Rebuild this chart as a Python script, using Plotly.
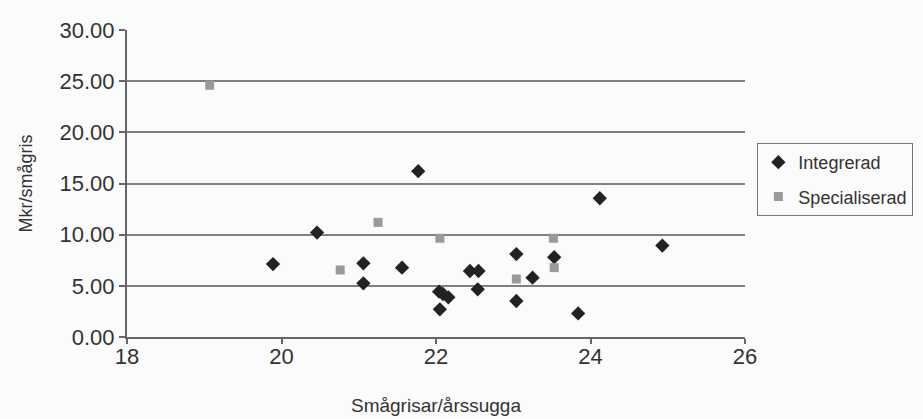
import plotly.graph_objects as go

# Integrerad (diamonds)
int_x = [19.89, 20.46, 21.06, 21.06, 21.56, 21.77, 22.04, 22.09, 22.16, 22.05,
         22.44, 22.55, 22.54, 23.04, 23.04, 23.25, 23.53, 23.84, 24.12, 24.93]
int_y = [7.13, 10.2, 7.2, 5.25, 6.77, 16.2, 4.43, 4.2, 3.88, 2.7,
         6.45, 6.45, 4.66, 8.1, 3.52, 5.8, 7.8, 2.3, 13.56, 8.93]

# Specialiserad (squares)
spec_x = [19.07, 20.76, 21.25, 22.05, 23.04, 23.52, 23.53]
spec_y = [24.6, 6.55, 11.2, 9.65, 5.67, 9.65, 6.78]

x_ticks = [18, 20, 22, 24, 26]
y_ticks = [0, 5, 10, 15, 20, 25, 30]

fig = go.Figure()
fig.add_trace(go.Scatter(x=int_x, y=int_y, mode="markers", name="Integrerad",
                         legendgroup="a",
                         marker=dict(symbol="diamond", size=11, color="#222222")))
fig.add_trace(go.Scatter(x=spec_x, y=spec_y, mode="markers", name="Specialiserad",
                         legendgroup="b",
                         marker=dict(symbol="square", size=9, color="#9a9a9a")))

fig.update_layout(
    width=923, height=419,
    margin=dict(l=127, r=178, t=30, b=82, autoexpand=False),
    paper_bgcolor="#fbfbfb", plot_bgcolor="#fbfbfb",
    font=dict(family="Liberation Sans, Arial, sans-serif", color="#333333"),
    showlegend=True,
    legend=dict(x=1.02, y=0.632, xanchor="left", yanchor="top",
                bordercolor="#777777", borderwidth=1, bgcolor="#fbfbfb",
                font=dict(size=18, color="#333333"), tracegroupgap=8,
                itemwidth=30),
)
fig.update_xaxes(range=[18, 26], tickvals=x_ticks, showgrid=False, zeroline=False,
                 automargin=False,
                 showline=True, linecolor="#666666", linewidth=2,
                 ticks="outside", ticklen=5, tickcolor="#666666", tickwidth=2,
                 ticklabelstandoff=-6,
                 tickfont=dict(size=22, color="#333333"),
                 title=dict(text="Smågrisar/årssugga", font=dict(size=19, color="#333333"), standoff=30))
fig.update_yaxes(range=[0, 30], tickvals=y_ticks, tickformat=".2f",
                 automargin=False,
                 showgrid=True, gridcolor="#808080", gridwidth=2, zeroline=False,
                 showline=True, linecolor="#666666", linewidth=2,
                 ticks="outside", ticklen=6, tickcolor="#666666", tickwidth=2,
                 tickfont=dict(size=22, color="#333333"),
                 title=dict(text="Mkr/smågris", font=dict(size=18, color="#333333"), standoff=22))

fig.write_html("out.html")
